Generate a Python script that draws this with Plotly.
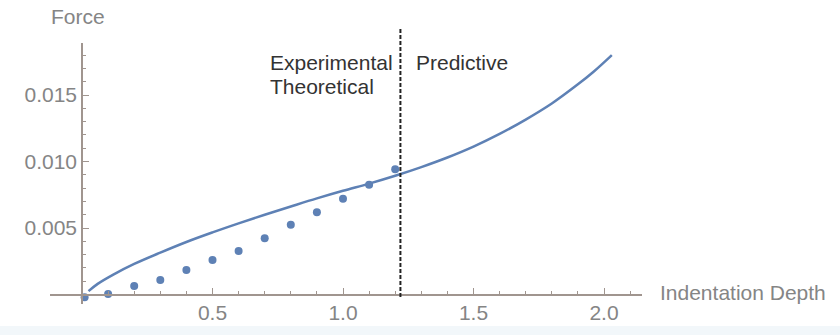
import plotly.graph_objects as go

# ---------------- data ----------------
exp_depth = [0.01, 0.1, 0.2, 0.3, 0.4, 0.5, 0.6, 0.7, 0.8, 0.9, 1.0, 1.1, 1.2]
exp_force = [-0.0002, 0.00004, 0.00064, 0.00109, 0.00184, 0.00259, 0.00327,
             0.00423, 0.00525, 0.00618, 0.0072, 0.00826, 0.00941]

theo_depth = [0.025, 0.06, 0.12, 0.2, 0.3, 0.4, 0.5, 0.6, 0.7, 0.8, 0.9, 1.0,
              1.1, 1.2, 1.3, 1.4, 1.5, 1.6, 1.7, 1.8, 1.9, 1.96, 2.03]
theo_force = [0.00025, 0.0008, 0.0015, 0.0023, 0.00315, 0.00395, 0.00467,
              0.00535, 0.00600, 0.00662, 0.00723, 0.00780, 0.00834, 0.00893,
              0.00958, 0.01030, 0.01112, 0.01207, 0.01315, 0.01436, 0.01580,
              0.01675, 0.01800]

boundary_depth = 1.22

x_tick_vals = [0.5, 1.0, 1.5, 2.0]
x_tick_text = ["0.5", "1.0", "1.5", "2.0"]
x_minor_vals = [0.1, 0.2, 0.3, 0.4, 0.6, 0.7, 0.8, 0.9, 1.1, 1.2, 1.3, 1.4,
                1.6, 1.7, 1.8, 1.9, 2.1]
y_tick_vals = [0.005, 0.010, 0.015]
y_tick_text = ["0.005", "0.010", "0.015"]
y_minor_vals = [0.001, 0.002, 0.003, 0.004, 0.006, 0.007, 0.008, 0.009,
                0.011, 0.012, 0.013, 0.014, 0.016, 0.017, 0.018]

# ---------------- layout helpers ----------------
W, H = 840, 335
FONT = "Liberation Sans, Arial, sans-serif"
BLUE = "#5E81B5"
AXIS = "#a0958f"
TICKTXT = "#858585"

def fx(px):
    return px / W

def fy(py):
    return 1 - py / H

fig = go.Figure()

fig.add_trace(go.Scatter(
    x=theo_depth, y=theo_force, mode="lines",
    line=dict(color=BLUE, width=2.5, shape="spline", smoothing=1.0),
    cliponaxis=False, showlegend=False))

fig.add_trace(go.Scatter(
    x=exp_depth, y=exp_force, mode="markers",
    marker=dict(color=BLUE, size=8, line=dict(width=0)),
    cliponaxis=False, showlegend=False))

fig.update_layout(
    width=W, height=H,
    margin=dict(l=0, r=0, t=0, b=0),
    paper_bgcolor="white", plot_bgcolor="rgba(0,0,0,0)",
    font=dict(family=FONT, size=21, color=TICKTXT),
    xaxis=dict(
        domain=[fx(50), fx(642)], range=[-0.1226, 2.1456],
        anchor="free", position=fy(294.5),
        showline=True, linecolor=AXIS, linewidth=1.5,
        ticks="inside", ticklen=6, tickwidth=1.3, tickcolor=AXIS,
        tickmode="array", tickvals=x_tick_vals, ticktext=x_tick_text,
        tickfont=dict(family=FONT, size=21, color=TICKTXT),
        minor=dict(tickmode="array", tickvals=x_minor_vals, ticks="inside",
                   ticklen=3, tickwidth=1.2, tickcolor=AXIS),
        showgrid=False, zeroline=False, fixedrange=True),
    yaxis=dict(
        domain=[fy(304), fy(43)], range=[-0.000714, 0.01891],
        anchor="free", position=fx(82),
        showline=True, linecolor=AXIS, linewidth=1.5,
        ticks="inside", ticklen=6, tickwidth=1.3, tickcolor=AXIS,
        tickmode="array", tickvals=y_tick_vals, ticktext=y_tick_text,
        tickfont=dict(family=FONT, size=21, color=TICKTXT),
        minor=dict(tickmode="array", tickvals=y_minor_vals, ticks="inside",
                   ticklen=3, tickwidth=1.2, tickcolor=AXIS),
        showgrid=False, zeroline=False, fixedrange=True),
)

# boundary between experimental and predictive regions
fig.add_shape(type="line", xref="x", yref="paper",
              x0=boundary_depth, x1=boundary_depth, y0=fy(297), y1=fy(28),
              line=dict(color="#222222", width=2, dash="4px,2px"))

# faint strip at the bottom of the image
fig.add_shape(type="rect", xref="paper", yref="paper",
              x0=0, x1=1, y0=0, y1=fy(326),
              fillcolor="#f2f7fa", line=dict(width=0), layer="below")

def label(text, px, py, color, anchor="left"):
    fig.add_annotation(text=text, xref="paper", yref="paper",
                       x=fx(px), y=fy(py), xanchor=anchor, yanchor="middle",
                       showarrow=False,
                       font=dict(family=FONT, size=21, color=color))

label("Force", 49, 17, TICKTXT)
label("Indentation Depth", 658, 292, TICKTXT)
label("Experimental", 268, 62, "#333333")
label("Theoretical", 268, 86, "#333333")
label("Predictive", 414, 62, "#333333")

fig.write_html("out.html")
